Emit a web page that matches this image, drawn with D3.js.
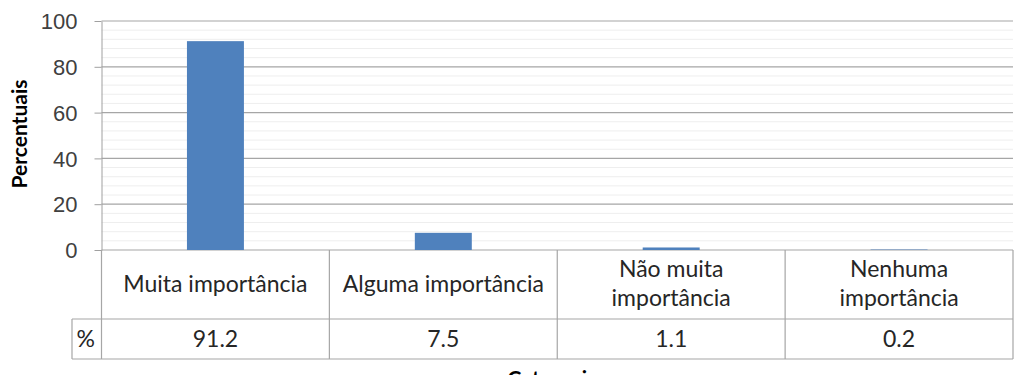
<!DOCTYPE html>
<html lang="pt">
<head>
  <meta charset="UTF-8">
  <title>Percentuais por Categorias</title>
  <script src="https://d3js.org/d3.v7.min.js"></script>
  <style>
    body {
      margin: 0;
      background: #ffffff;
    }
    svg {
      display: block;
      font-family: Lato, "Open Sans", sans-serif;
    }
    .axis text {
      font-size: 22px;
      fill: #404040;
    }
    .axis line, .axis path {
      stroke: #a0a0a0;
    }
    .cell-text {
      font-size: 23px;
      fill: #262626;
    }
    .title {
      font-size: 21px;
      font-weight: bold;
      fill: #000;
    }
  </style>
</head>
<body>

<svg width="1027" height="375"></svg>

<script>
// data
const categories = ["Muita importância", "Alguma importância", "Não muita importância", "Nenhuma importância"];
const labelLines = [["Muita importância"], ["Alguma importância"], ["Não muita", "importância"], ["Nenhuma", "importância"]];
const values = [91.2, 7.5, 1.1, 0.2];
const valueLabels = ["91.2", "7.5", "1.1", "0.2"];
const yTicks = [0, 20, 40, 60, 80, 100];
const rowLabel = "%";
const yTitle = "Percentuais";
const xTitle = "Categorias";

const svg = d3.select("svg");
const plot = {left: 101.5, right: 1013, top: 21, bottom: 250};
const tableRow1 = 319, tableRow2 = 359, rowLabelLeft = 72;

const x = d3.scaleBand()
  .domain(categories)
  .range([plot.left, plot.right])
  .padding(0);

const y = d3.scaleLinear()
  .domain([0, 100])
  .range([plot.bottom, plot.top]);

// minor gridlines
const minor = d3.range(0, 101, 4).filter(v => v % 20 !== 0);
svg.append("g").selectAll("line")
  .data(minor)
  .enter().append("line")
  .attr("x1", plot.left).attr("x2", plot.right)
  .attr("y1", d => y(d)).attr("y2", d => y(d))
  .attr("stroke", "#eeeeee")
  .attr("stroke-width", 1);

// major gridlines
svg.append("g").selectAll("line")
  .data(yTicks)
  .enter().append("line")
  .attr("x1", plot.left).attr("x2", plot.right)
  .attr("y1", d => y(d)).attr("y2", d => y(d))
  .attr("stroke", "#a6a6a6")
  .attr("stroke-width", 1.2);

// bars
const barW = x.bandwidth() * 0.25;
svg.append("g").selectAll("rect")
  .data(values)
  .enter().append("rect")
  .attr("x", (d, i) => x(categories[i]) + x.bandwidth() / 2 - barW / 2)
  .attr("y", d => y(d))
  .attr("width", barW)
  .attr("height", d => y(0) - y(d))
  .attr("fill", "#4f81bd");

// y axis
const yAxis = svg.append("g")
  .attr("class", "axis")
  .attr("transform", `translate(${plot.left},0)`)
  .call(d3.axisLeft(y).tickValues(yTicks).tickSize(7).tickSizeOuter(0).tickPadding(17));
yAxis.selectAll("text").attr("dy", "0.35em");

// data table lines
const tbl = svg.append("g").attr("stroke", "#a6a6a6").attr("stroke-width", 1.2);
tbl.append("line")
  .attr("x1", plot.left).attr("x2", plot.left)
  .attr("y1", plot.bottom).attr("y2", tableRow2);
categories.forEach(c => {
  tbl.append("line")
    .attr("x1", x(c) + x.bandwidth()).attr("x2", x(c) + x.bandwidth())
    .attr("y1", plot.bottom).attr("y2", tableRow2);
});
[tableRow1, tableRow2].forEach(yy => {
  tbl.append("line")
    .attr("x1", rowLabelLeft).attr("x2", plot.right)
    .attr("y1", yy).attr("y2", yy);
});
tbl.append("line")
  .attr("x1", rowLabelLeft).attr("x2", rowLabelLeft)
  .attr("y1", tableRow1).attr("y2", tableRow2);

// category labels
labelLines.forEach((lines, i) => {
  const cx = x(categories[i]) + x.bandwidth() / 2;
  const t = svg.append("text")
    .attr("class", "cell-text")
    .attr("text-anchor", "middle");
  if (lines.length === 1) {
    t.append("tspan").attr("x", cx).attr("y", 292).text(lines[0]);
  } else {
    t.append("tspan").attr("x", cx).attr("y", 277).text(lines[0]);
    t.append("tspan").attr("x", cx).attr("y", 306).text(lines[1]);
  }
});

// value row
svg.append("text")
  .attr("class", "cell-text")
  .attr("x", (rowLabelLeft + plot.left) / 2 - 1)
  .attr("y", 347)
  .attr("text-anchor", "middle")
  .text(rowLabel);

svg.append("g").selectAll("text")
  .data(valueLabels)
  .enter().append("text")
  .attr("class", "cell-text")
  .attr("x", (d, i) => x(categories[i]) + x.bandwidth() / 2)
  .attr("y", 347)
  .attr("text-anchor", "middle")
  .text(d => d);

// titles
svg.append("text")
  .attr("class", "title")
  .attr("transform", "rotate(-90)")
  .attr("x", -134)
  .attr("y", 27)
  .attr("text-anchor", "middle")
  .text(yTitle);

// the reference crops this title at the bottom edge
svg.append("text")
  .attr("class", "title")
  .attr("x", (plot.left + plot.right) / 2)
  .attr("y", 386)
  .attr("text-anchor", "middle")
  .text(xTitle);
</script>

</body>
</html>
